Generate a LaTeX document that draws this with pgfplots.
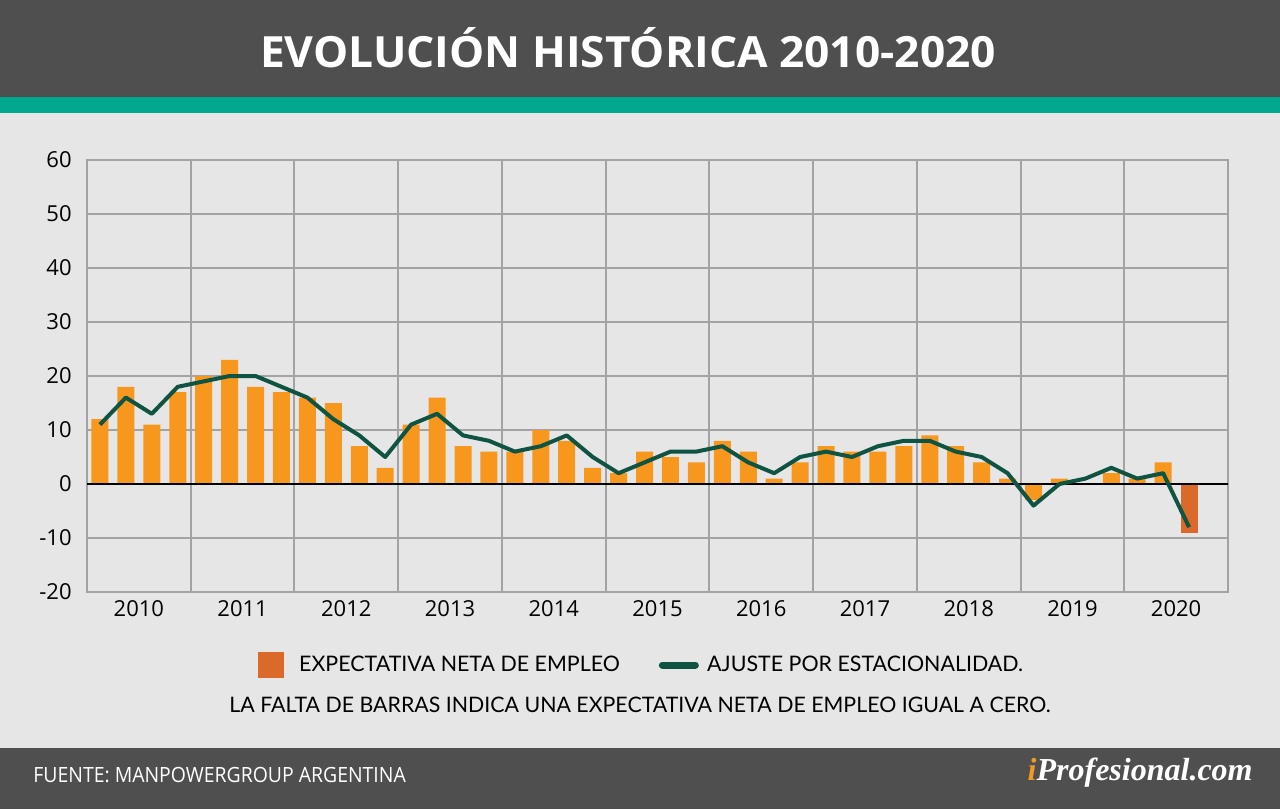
\documentclass[border=0pt]{standalone}
\usepackage{fontspec}
\setmainfont{Open Sans}
\newfontfamily\titlefont[FakeStretch=1.03]{Open Sans}
\newfontfamily\legfont{Lato}
\newfontfamily\footfont[FakeStretch=0.925]{Open Sans}
\newfontfamily\logofont{Liberation Serif}
\usepackage{pgfplots}
\usepackage{pgfplotstable}
\pgfplotsset{compat=1.18}

\definecolor{headgray}{HTML}{4F4F4F}
\definecolor{teal}{HTML}{00A88F}
\definecolor{bodygray}{HTML}{E6E6E6}
\definecolor{gridgray}{HTML}{A3A3A3}
\definecolor{barorange}{HTML}{F7971E}
\definecolor{redor}{HTML}{DB6A2A}
\definecolor{greenline}{HTML}{0F5443}
\definecolor{logoorange}{HTML}{F39A26}

% quarter index (x), net outlook (bar), seasonally adjusted (line)
\pgfplotstableread{
x     bar  line
0.5   12   11
1.5   18   16
2.5   11   13
3.5   17   18
4.5   20   19
5.5   23   20
6.5   18   20
7.5   17   18
8.5   16   16
9.5   15   12
10.5   7    9
11.5   3    5
12.5  11   11
13.5  16   13
14.5   7    9
15.5   6    8
16.5   6    6
17.5  10    7
18.5   8    9
19.5   3    5
20.5   2    2
21.5   6    4
22.5   5    6
23.5   4    6
24.5   8    7
25.5   6    4
26.5   1    2
27.5   4    5
28.5   7    6
29.5   6    5
30.5   6    7
31.5   7    8
32.5   9    8
33.5   7    6
34.5   4    5
35.5   1    2
36.5  -3   -4
37.5   1    0
38.5   0    1
39.5   2    3
40.5   1    1
41.5   4    2
42.5  -9   -8
}\datatable

\begin{document}
\begin{tikzpicture}
\useasboundingbox (0,0) rectangle (640pt,404.5pt);
\fill[bodygray] (0,0) rectangle (640pt,404.5pt);
\fill[headgray] (0,356pt) rectangle (640pt,404.5pt);
\fill[teal] (0,348pt) rectangle (640pt,356pt);
\fill[headgray] (0,0) rectangle (640pt,30.5pt);

\begin{axis}[
    at={(43.5pt,108.5pt)}, anchor=south west,
    width=570.5pt, height=216pt, scale only axis,
    xmin=0, xmax=44, ymin=-20, ymax=60,
    xtick={2,6,...,42},
    xticklabels={2010,2011,2012,2013,2014,2015,2016,2017,2018,2019,2020},
    minor xtick={0,4,...,44},
    ytick={-20,-10,...,60},
    xminorgrids, ymajorgrids,
    major tick length=0pt, minor tick length=0pt,
    grid style={gridgray, line width=1pt},
    minor grid style={gridgray, line width=1pt},
    axis line style={gridgray, line width=1pt},
    /pgf/number format/assume math mode=true,
    tick label style={font=\fontsize{11}{13}\selectfont, text=black},
    yticklabel style={inner sep=0pt, xshift=-7.5pt},
    xticklabel style={inner sep=0pt, yshift=-4pt},
    legend columns=2,
    legend style={at={(axis description cs:0.1499,-0.169)}, anchor=west,
        draw=none, fill=none, inner sep=0pt,
        font=\legfont\fontsize{10.7}{12}\selectfont,
        nodes={inner sep=0pt, text=black},
        /tikz/column 2/.style={column sep=19.5pt}},
]
\addlegendimage{legend image code/.code={
    \fill[redor] (0pt,-6.25pt) rectangle (12.5pt,6.25pt); \path (20pt,0pt);}}
\addlegendentry{EXPECTATIVA NETA DE EMPLEO}
\addlegendimage{legend image code/.code={
    \draw[greenline, line width=3.5pt, line cap=round] (1.75pt,0pt) -- (18.25pt,0pt);
    \path (24pt,0pt);}}
\addlegendentry{AJUSTE POR ESTACIONALIDAD.}

\addplot[ybar, bar width=8.5pt, bar shift=0pt, fill=barorange, draw=none,
    forget plot, restrict x to domain=0:42]
    table[x=x, y=bar] {\datatable};
\addplot[ybar, bar width=8.5pt, bar shift=0pt, fill=redor, draw=none,
    forget plot, restrict x to domain=42:43]
    table[x=x, y=bar] {\datatable};
\addplot[black, line width=1pt, forget plot] coordinates {(0,0) (44,0)};
\addplot[greenline, line width=2pt, line join=round, forget plot]
    table[x=x, y=line] {\datatable};
\end{axis}

\node[text=white, anchor=base, inner sep=0pt] at (314pt,370.5pt)
    {\titlefont\bfseries\fontsize{21.5}{26}\selectfont EVOLUCIÓN HISTÓRICA 2010-2020};
\node[anchor=base, inner sep=0pt] at (320pt,48.5pt)
    {\legfont\fontsize{10.67}{13}\selectfont LA FALTA DE BARRAS INDICA UNA EXPECTATIVA NETA DE EMPLEO IGUAL A CERO.};
\node[text=white, anchor=base west, inner sep=0pt] at (16.5pt,13.5pt)
    {\footfont\fontsize{10.5}{12}\selectfont FUENTE: MANPOWERGROUP ARGENTINA};
\node[text=white, anchor=east, inner sep=0pt] at (626.5pt,18pt)
    {\logofont\bfseries\itshape\fontsize{16}{18}\selectfont\textcolor{logoorange}{i}Profesional.com};
\end{tikzpicture}
\end{document}
